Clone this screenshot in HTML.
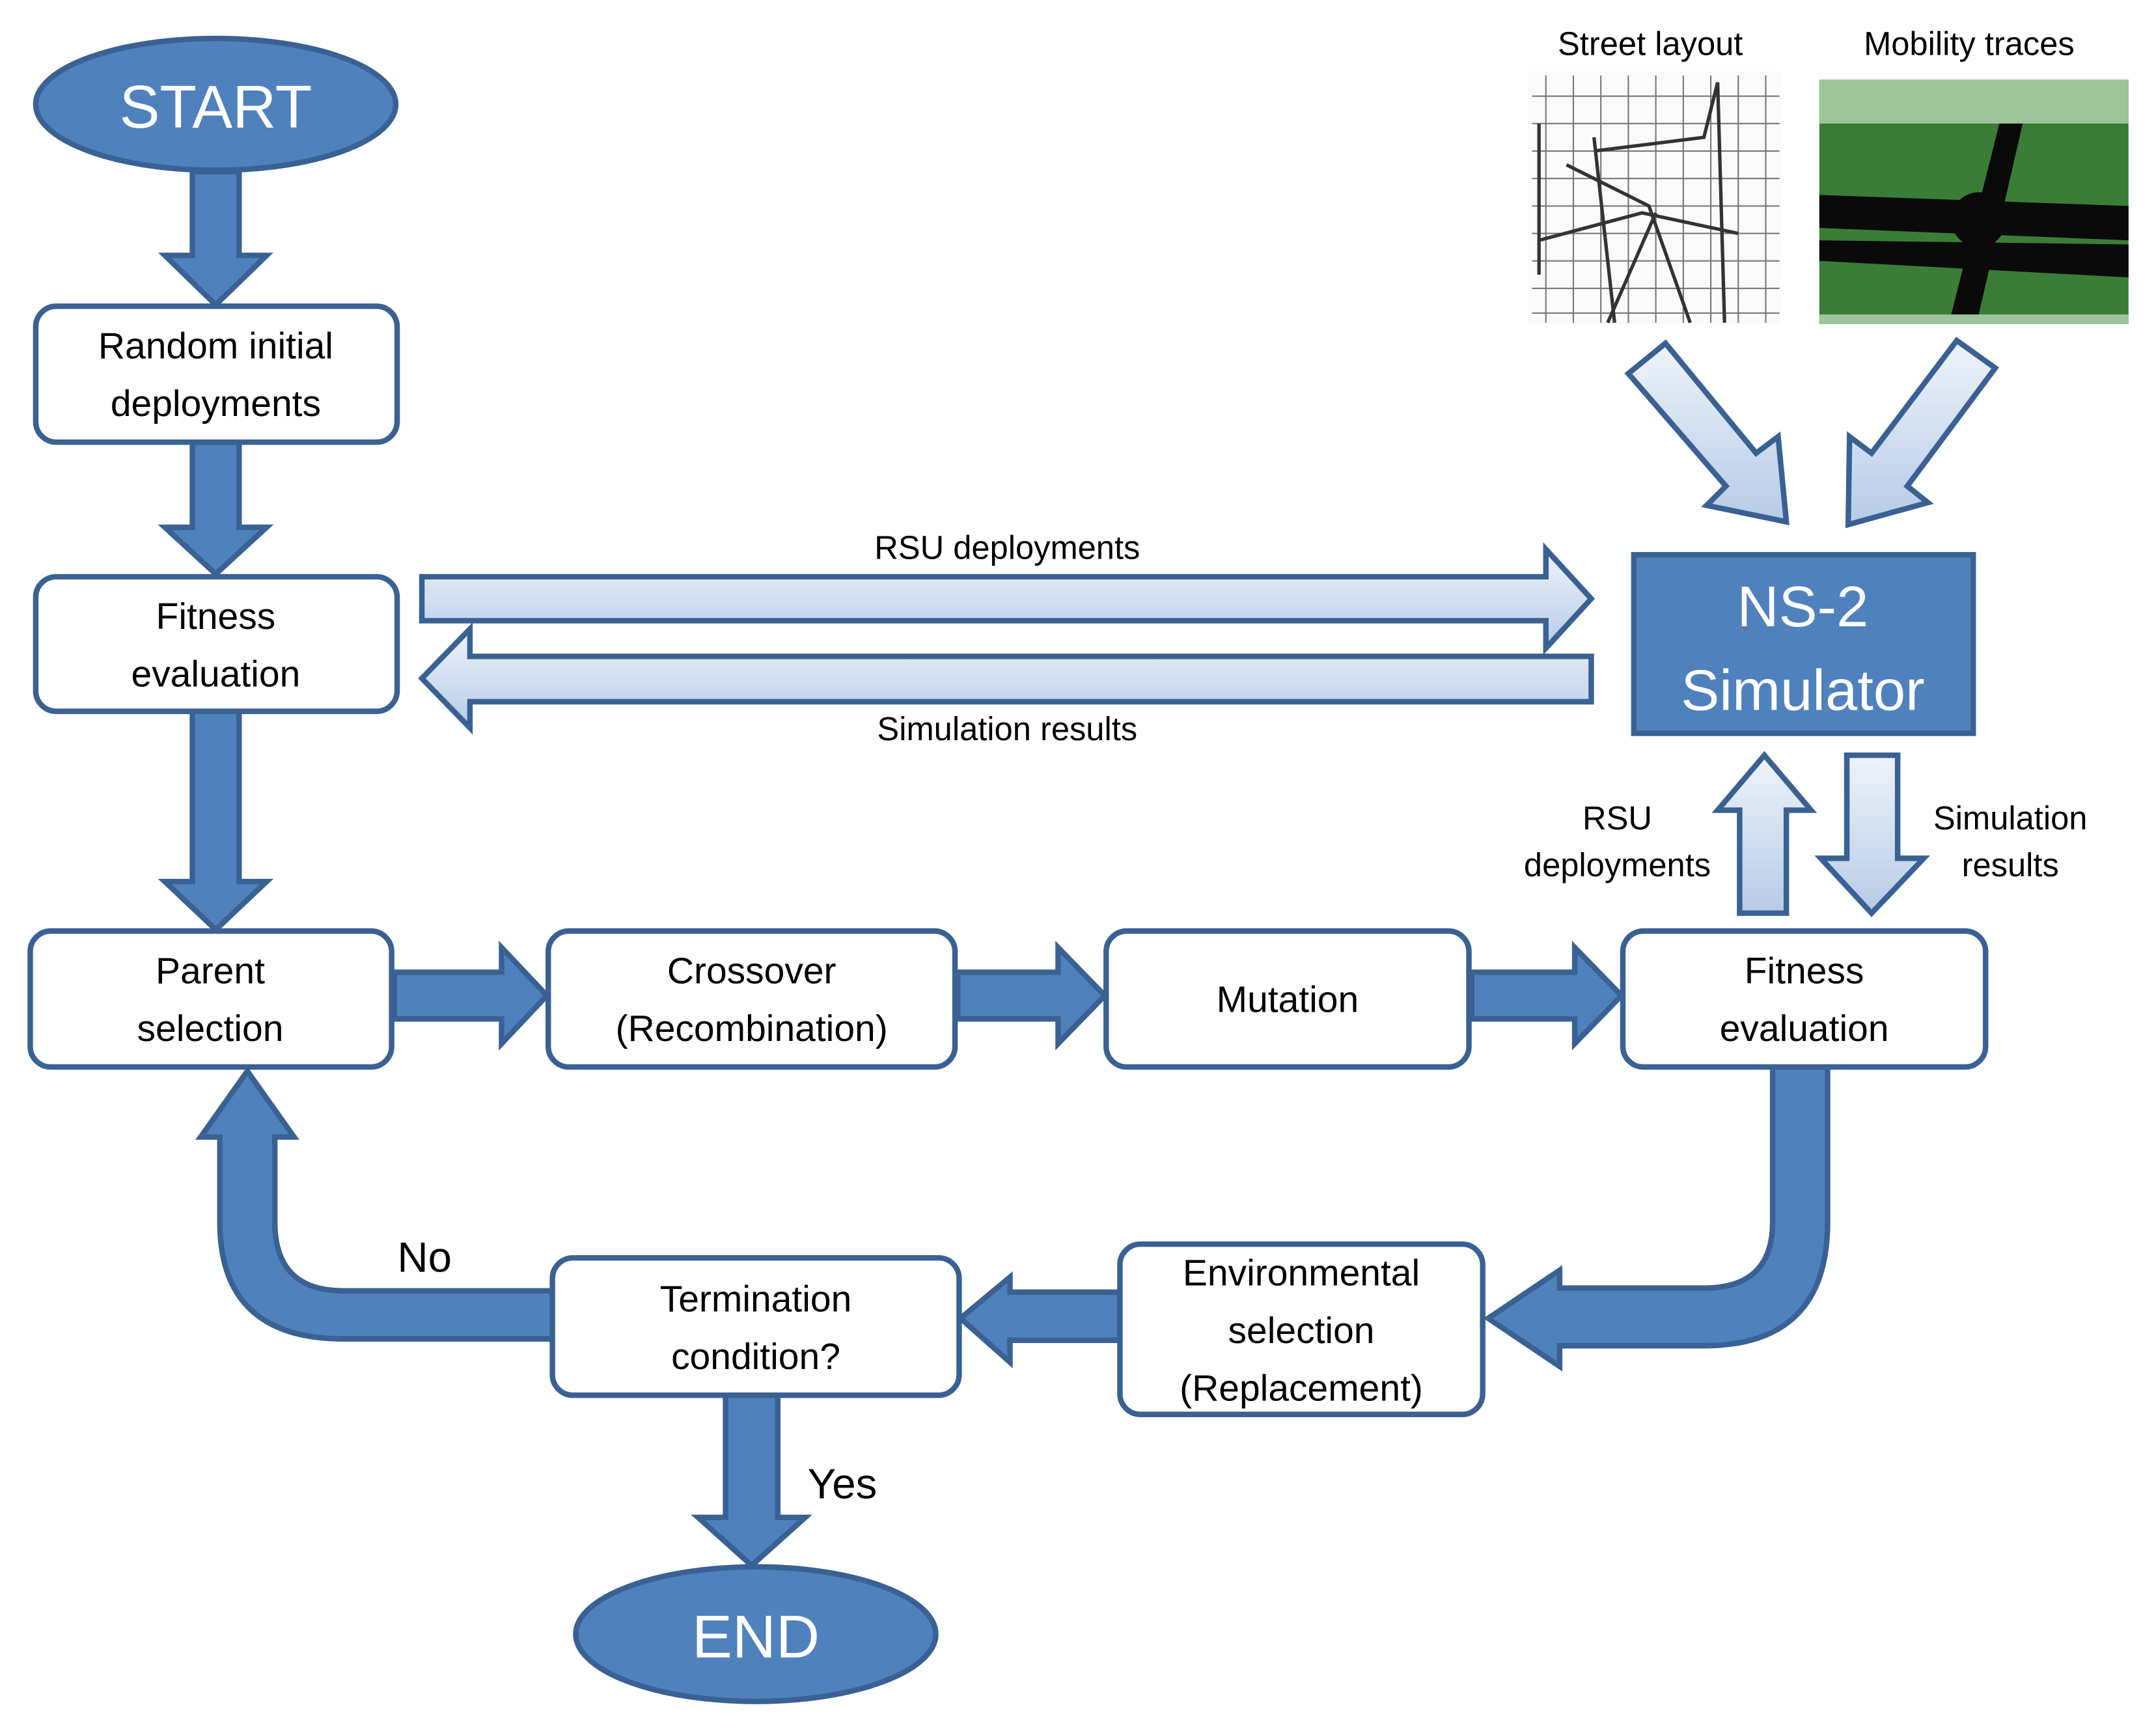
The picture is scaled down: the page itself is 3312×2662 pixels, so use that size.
<!DOCTYPE html>
<html><head><meta charset="utf-8"><style>html,body{margin:0;padding:0;background:#fff}svg{display:block}</style></head>
<body>
<svg width="3312" height="2662" viewBox="0 0 1569 1262" preserveAspectRatio="none" xmlns="http://www.w3.org/2000/svg" font-family="Liberation Sans, sans-serif">
<defs>
<linearGradient id="lg" x1="0" y1="0" x2="0" y2="1"><stop offset="0" stop-color="#eef3fa"/><stop offset="1" stop-color="#b6cbe6"/></linearGradient>
</defs>
<g fill="#4f81bd" stroke="#3a6193" stroke-width="4">
<ellipse cx="157" cy="76" rx="131" ry="48"/>
<ellipse cx="550" cy="1190" rx="131" ry="49"/>
<rect x="1189" y="404" width="247" height="130"/>
<path d="M140,125 L174,125 L174,186 L194,186 L157,222 L120,186 L140,186 Z"/>
<path d="M140,322 L174,322 L174,384 L194,384 L157,418 L120,384 L140,384 Z"/>
<path d="M140,518 L174,518 L174,642 L194,642 L157,677 L120,642 L140,642 Z"/>
<path d="M528,1016 L566,1016 L566,1105 L586,1105 L547,1140 L508,1105 L528,1105 Z"/>
<path d="M287,708 L365,708 L365,690 L398,725 L365,760 L365,742 L287,742 Z"/>
<path d="M697,708 L770,708 L770,690 L804,725 L770,760 L770,742 L697,742 Z"/>
<path d="M1071,708 L1146,708 L1146,690 L1180,725 L1146,760 L1146,742 L1071,742 Z"/>
<path d="M815,941 L735,941 L735,930 L699,960 L735,992 L735,976 L815,976 Z"/>
<path d="M1290,777 L1330,777 L1330,890 Q1330,980 1240,980 L1135,980 L1135,995 L1083,960 L1135,925 L1135,938 L1240,938 Q1290,938 1290,890 Z"/>
<path d="M402,940 L250,940 Q200,940 200,890 L200,828 L214,828 L180,780 L146,828 L160,828 L160,890 Q160,975 250,975 L402,975 Z"/>
</g>
<g fill="url(#lg)" stroke="#3a6193" stroke-width="4">
<path d="M307,420 L1125,420 L1125,400 L1158,436 L1125,472 L1125,452 L307,452 Z"/>
<path d="M1158,478 L342,478 L342,458 L307,494 L342,530 L342,511 L1158,511 Z"/>
<path d="M1266,665 L1300,665 L1300,590 L1318,590 L1284,550 L1250,590 L1266,590 Z"/>
<path d="M1344,550 L1381,550 L1381,625 L1400,625 L1362,665 L1325,625 L1344,625 Z"/>
<path d="M1185,272 L1212,250 L1278,330 L1294,318 L1300,380 L1242,368 L1256,354 Z"/>
<path d="M1452,268 L1424,248 L1362,330 L1346,318 L1345,382 L1403,366 L1388,354 Z"/>
</g>
<g fill="#fff" stroke="#3a6193" stroke-width="4">
<rect x="26" y="223" width="263" height="99" rx="15"/>
<rect x="26" y="420" width="263" height="98" rx="15"/>
<rect x="22" y="678" width="263" height="99" rx="15"/>
<rect x="399" y="678" width="296" height="99" rx="15"/>
<rect x="805" y="678" width="264" height="99" rx="15"/>
<rect x="1181" y="678" width="264" height="99" rx="15"/>
<rect x="815" y="906" width="264" height="124" rx="15"/>
<rect x="402" y="916" width="296" height="100" rx="15"/>
</g>
<g stroke="#333" fill="none">
<rect x="1112" y="52" width="184" height="184" fill="#fafafa" stroke="none"/>
<g stroke-width="1" stroke="#777">
<path d="M1115,70 H1295 M1115,90 H1295 M1115,110 H1295 M1115,130 H1295 M1115,150 H1295 M1115,170 H1295 M1115,190 H1295 M1115,210 H1295 M1115,228 H1295"/>
<path d="M1125,55 V235 M1145,55 V235 M1165,55 V235 M1185,55 V235 M1205,55 V235 M1225,55 V235 M1245,55 V235 M1265,55 V235 M1285,55 V235"/>
</g>
<g stroke-width="2.5">
<path d="M1160,110 L1240,100 L1250,60 M1140,120 L1200,150 L1230,235 M1120,175 L1195,155 L1265,170 M1160,100 L1175,235 M1250,60 L1255,235 M1205,155 L1170,235 M1120,90 L1120,200"/>
</g>
</g>
<rect x="1324" y="58" width="225" height="178" fill="#3a7d36"/>
<rect x="1324" y="58" width="225" height="32" fill="#9ec49a"/>
<rect x="1324" y="229" width="225" height="7" fill="#9ec49a"/>
<g fill="#0a0a0a">
<path d="M1324,142 L1549,150 L1549,175 L1324,166 Z"/>
<path d="M1324,175 L1549,178 L1549,202 L1324,190 Z"/>
<path d="M1455,90 L1472,90 L1440,229 L1420,229 Z"/>
<circle cx="1440" cy="160" r="20"/>
</g>
<g fill="#000" font-size="24" text-anchor="middle">
<text x="1201" y="40">Street layout</text>
<text x="1433" y="40">Mobility traces</text>
<text x="733" y="407">RSU deployments</text>
<text x="733" y="539">Simulation results</text>
<text x="1177" y="604">RSU</text>
<text x="1177" y="638">deployments</text>
<text x="1463" y="604">Simulation</text>
<text x="1463" y="638">results</text>
</g>
<g fill="#000" font-size="27" text-anchor="middle">
<text x="157" y="261">Random initial</text>
<text x="157" y="303">deployments</text>
<text x="157" y="458">Fitness</text>
<text x="157" y="500">evaluation</text>
<text x="153" y="716">Parent</text>
<text x="153" y="758">selection</text>
<text x="547" y="716">Crossover</text>
<text x="547" y="758">(Recombination)</text>
<text x="937" y="737">Mutation</text>
<text x="1313" y="716">Fitness</text>
<text x="1313" y="758">evaluation</text>
<text x="947" y="936">Environmental</text>
<text x="947" y="978">selection</text>
<text x="947" y="1020">(Replacement)</text>
<text x="550" y="955">Termination</text>
<text x="550" y="997">condition?</text>
<text x="309" y="926" font-size="31">No</text>
<text x="613" y="1091" font-size="31">Yes</text>
</g>
<g fill="#fff" text-anchor="middle">
<text x="157" y="93" font-size="44">START</text>
<text x="550" y="1207" font-size="44">END</text>
<text x="1312" y="456" font-size="42">NS-2</text>
<text x="1312" y="517" font-size="42">Simulator</text>
</g>
</svg>
</body></html>
